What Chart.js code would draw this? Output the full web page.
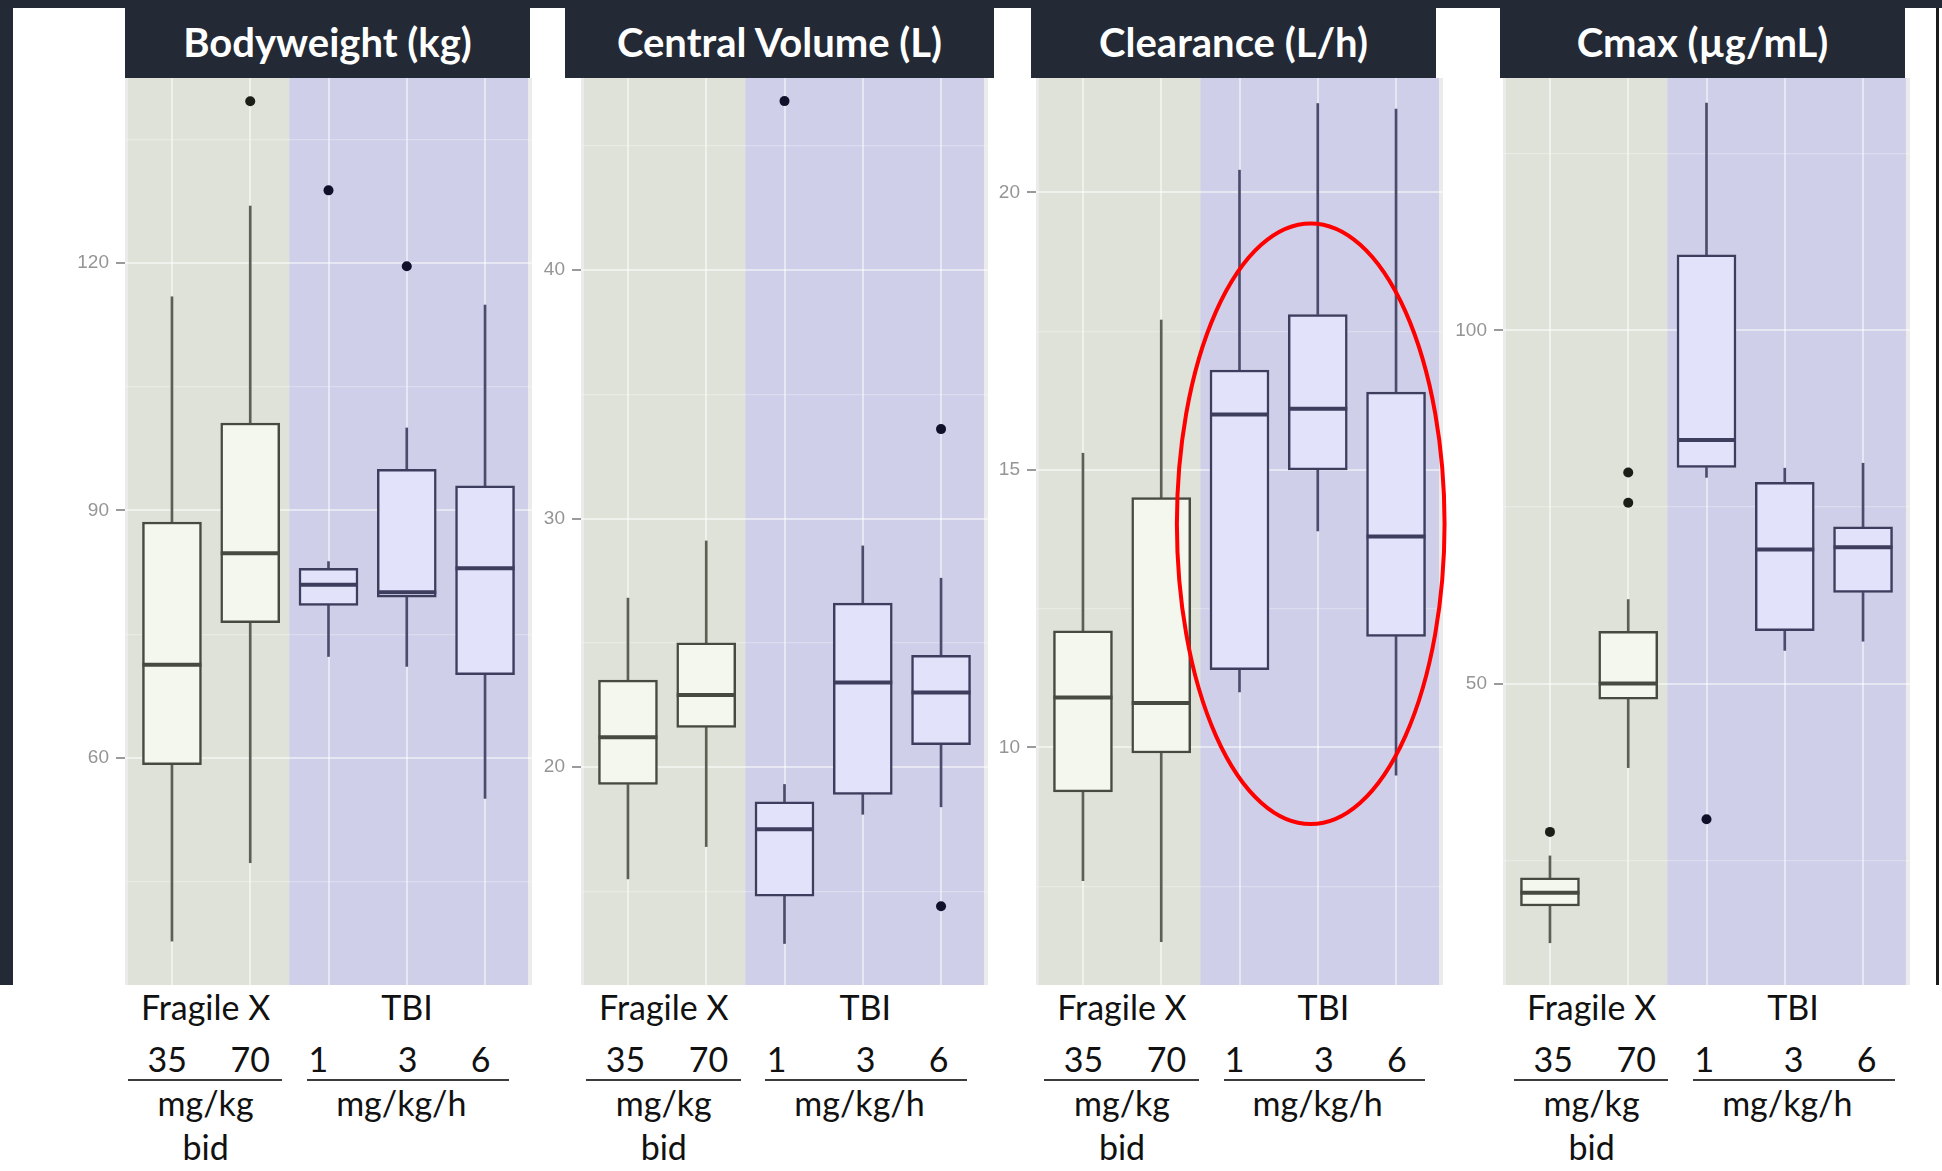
<!DOCTYPE html>
<html>
<head>
<meta charset="utf-8">
<title>PK parameters: Fragile X vs TBI</title>
<script src="https://cdn.jsdelivr.net/npm/chart.js@4.4.1/dist/chart.umd.min.js"></script>
<style>
  html, body { margin: 0; padding: 0; background: #fff; }
  #page { position: relative; width: 1942px; height: 1171px; overflow: hidden; background: #fff; }
  .bar-top { position: absolute; left: 0; top: 0; width: 1942px; height: 8px; background: #232a36; }
  .bar-left { position: absolute; left: 0; top: 0; width: 13px; height: 985px; background: #232a36; }
  .rule-right { position: absolute; left: 1936px; top: 8px; width: 3px; height: 977px; background: #1b1b1b; }
  .head { position: absolute; top: 0; height: 78px; background: #232a36; color: #fff;
          font: bold 40px Lato, sans-serif; text-align: center; line-height: 84px; z-index: 2; overflow: hidden; }
  canvas { position: absolute; top: 78px; }
  .txt { position: absolute; font: 34px Lato, sans-serif; color: #111; white-space: nowrap;
         transform: translate(-50%, -50%); line-height: 1; }
  .line { position: absolute; height: 2px; background: #3c3c3c; }
</style>
</head>
<body>
<div id="page">
  <div class="bar-top"></div>
  <div class="bar-left"></div>
  <div class="rule-right"></div>
</div>
<script>
const titles = ['Bodyweight (kg)', 'Central Volume (L)', 'Clearance (L/h)', 'Cmax (µg/mL)'];
const groups = ['Fragile X', 'TBI'];
const doses = ['35', '70', '1', '3', '6'];
const doseUnits = ['mg/kg', 'mg/kg/h'];
const dosing = 'bid';

// one row per dose: [low whisker, Q1, median, Q3, high whisker]
const bodyweight = [
  [37.8, 59.2, 71.3, 88.6, 115.9],
  [47.3, 76.4, 84.8, 100.6, 126.9],
  [72.3, 78.5, 81.0, 83.0, 83.8],
  [71.1, 79.5, 80.1, 95.0, 100.0],
  [55.1, 70.1, 83.0, 93.0, 114.9]
];
const bodyweightOutliers = [[], [139.6], [128.8], [119.6], []];

const centralVolume = [
  [15.5, 19.3, 21.2, 23.5, 26.8],
  [16.8, 21.6, 22.9, 25.0, 29.1],
  [12.9, 14.8, 17.5, 18.6, 19.3],
  [18.1, 18.9, 23.4, 26.6, 28.9],
  [18.4, 20.9, 23.0, 24.5, 27.6]
];
const centralVolumeOutliers = [[], [], [46.8], [], [33.6, 14.4]];

const clearance = [
  [7.6, 9.2, 10.9, 12.1, 15.3],
  [6.5, 9.9, 10.8, 14.5, 17.7],
  [11.0, 11.4, 16.0, 16.8, 20.4],
  [13.9, 15.0, 16.1, 17.8, 21.6],
  [9.5, 12.0, 13.8, 16.4, 21.5]
];
const clearanceOutliers = [[], [], [], [], []];

const cmax = [
  [13.3, 18.5, 20.4, 22.5, 25.6],
  [38.1, 47.8, 50.0, 57.4, 61.9],
  [79.2, 80.6, 84.5, 110.7, 132.2],
  [54.7, 57.5, 69.0, 78.5, 80.5],
  [56.0, 62.9, 69.3, 72.2, 81.2]
];
const cmaxOutliers = [[29.0], [79.9, 75.6], [30.8], [], []];

// axis limits and labelled tick spacing per panel
const yRanges = [[32.48, 142.42], [11.23, 47.73], [5.72, 22.06], [7.32, 135.75]];
const yMajorStep = [30, 10, 5, 50];

// red ring drawn over the TBI clearance boxes (data units)
const clearanceRing = { x: 3.91, y: 14.03, rx: 1.71, ry: 5.41 };

const panels = [
  { stats: bodyweight, outliers: bodyweightOutliers },
  { stats: centralVolume, outliers: centralVolumeOutliers },
  { stats: clearance, outliers: clearanceOutliers, ring: clearanceRing },
  { stats: cmax, outliers: cmaxOutliers }
];

// page layout
const panelLeft = [125, 581, 1036, 1503];
const plotWidth = 407;
const plotHeight = 907;
const axisWidth = 60;
const padRight = 12;
const headBox = [[125, 530], [565, 994], [1031, 1436], [1500, 1905]];
const labelShift = [0, 458.2, 916.4, 1386];

const fxStyle = { bg: '#dfe2d8', fill: '#f4f7ee', line: '#464a40', whisker: '#5b5f54', dot: '#1b1e17' };
const tbiStyle = { bg: '#cfcfe9', fill: '#e2e2fb', line: '#3d3d5d', whisker: '#4b4b6b', dot: '#10102a' };
const edgeGrey = '#ebebeb';
const styleOf = i => (i < 2 ? fxStyle : tbiStyle);

const page = document.getElementById('page');

titles.forEach((t, p) => {
  const h = document.createElement('div');
  h.className = 'head';
  h.style.left = headBox[p][0] + 'px';
  h.style.width = (headBox[p][1] - headBox[p][0]) + 'px';
  h.textContent = t;
  page.appendChild(h);
});

function addText(str, x, y) {
  const d = document.createElement('div');
  d.className = 'txt';
  d.style.left = x + 'px';
  d.style.top = y + 'px';
  d.textContent = str;
  page.appendChild(d);
}

function addRule(x0, x1, y) {
  const d = document.createElement('div');
  d.className = 'line';
  d.style.left = x0 + 'px';
  d.style.top = y + 'px';
  d.style.width = (x1 - x0) + 'px';
  page.appendChild(d);
}

const dosePos = [167.2, 250.2, 318.3, 407.5, 480.5];
labelShift.forEach(dx => {
  addText(groups[0], dx + 205.6, 1007);
  addText(groups[1], dx + 407, 1007);
  doses.forEach((d, i) => addText(d, dx + dosePos[i], 1059));
  addRule(dx + 127.6, dx + 282.4, 1079);
  addRule(dx + 307.2, dx + 509, 1079);
  addText(doseUnits[0], dx + 205.6, 1103);
  addText(doseUnits[1], dx + 401.3, 1103);
  addText(dosing, dx + 205.6, 1147);
});

// grey panel with two tinted bands: Fragile X doses left, TBI right
const panelBackground = {
  id: 'panelBackground',
  beforeDraw(chart) {
    const { ctx, chartArea: a, scales: { x } } = chart;
    const split = x.getPixelForValue(2.5);
    const h = a.bottom - a.top;
    ctx.save();
    ctx.fillStyle = edgeGrey;
    ctx.fillRect(a.left, a.top, a.right - a.left, h);
    ctx.fillStyle = fxStyle.bg;
    ctx.fillRect(a.left + 3, a.top, split - a.left - 3, h);
    ctx.fillStyle = tbiStyle.bg;
    ctx.fillRect(split, a.top, a.right - 4 - split, h);
    ctx.restore();
  }
};

function medianPlugin(stats, width) {
  return {
    id: 'medianLines',
    afterDatasetsDraw(chart) {
      const { ctx, scales: { x, y } } = chart;
      ctx.save();
      ctx.lineWidth = 4;
      stats.forEach((s, i) => {
        const cx = x.getPixelForValue(i + 1);
        const cy = y.getPixelForValue(s[2]);
        ctx.strokeStyle = styleOf(i).line;
        ctx.beginPath();
        ctx.moveTo(cx - width / 2, cy);
        ctx.lineTo(cx + width / 2, cy);
        ctx.stroke();
      });
      ctx.restore();
    }
  };
}

function ringPlugin(r) {
  return {
    id: 'ring',
    afterDraw(chart) {
      const { ctx, scales: { x, y } } = chart;
      const cx = x.getPixelForValue(r.x);
      const cy = y.getPixelForValue(r.y);
      const rx = x.getPixelForValue(r.x + r.rx) - cx;
      const ry = cy - y.getPixelForValue(r.y + r.ry);
      ctx.save();
      ctx.strokeStyle = '#ff0000';
      ctx.lineWidth = 4;
      ctx.beginPath();
      ctx.ellipse(cx, cy, rx, ry, 0, 0, Math.PI * 2);
      ctx.stroke();
      ctx.restore();
    }
  };
}

function drawPanel(p) {
  const cfg = panels[p];
  const [yMin, yMax] = yRanges[p];
  const step = yMajorStep[p];

  const canvas = document.createElement('canvas');
  canvas.width = axisWidth + plotWidth + padRight;
  canvas.height = plotHeight;
  canvas.style.left = (panelLeft[p] - axisWidth) + 'px';
  page.appendChild(canvas);

  const boxPx = Math.round(plotWidth / 5.2 * 0.75);
  const at = (i, v) => ({ x: i + 1, y: v });
  const colors = key => cfg.stats.map((s, i) => styleOf(i)[key]);

  const tickValues = [];
  for (let v = Math.ceil(yMin / (step / 2)) * (step / 2); v <= yMax; v += step / 2) tickValues.push(v);
  const isMajor = v => Math.abs(v / step - Math.round(v / step)) < 1e-6;

  const outlierPts = [];
  const outlierColors = [];
  cfg.outliers.forEach((list, i) => list.forEach(v => {
    outlierPts.push(at(i, v));
    outlierColors.push(styleOf(i).dot);
  }));

  const plugins = [panelBackground, medianPlugin(cfg.stats, boxPx)];
  if (cfg.ring) plugins.push(ringPlugin(cfg.ring));

  new Chart(canvas, {
    type: 'bar',
    data: {
      datasets: [
        {
          data: cfg.stats.map((s, i) => at(i, [s[0], s[1]])),
          backgroundColor: colors('whisker'),
          barThickness: 2,
          grouped: false,
          order: 3
        },
        {
          data: cfg.stats.map((s, i) => at(i, [s[3], s[4]])),
          backgroundColor: colors('whisker'),
          barThickness: 2,
          grouped: false,
          order: 3
        },
        {
          data: cfg.stats.map((s, i) => at(i, [s[1], s[3]])),
          backgroundColor: colors('fill'),
          borderColor: colors('line'),
          borderWidth: 2.5,
          borderSkipped: false,
          barThickness: boxPx,
          grouped: false,
          order: 2
        },
        {
          type: 'scatter',
          data: outlierPts,
          pointRadius: 5,
          pointBackgroundColor: outlierColors,
          pointBorderWidth: 0,
          order: 1
        }
      ]
    },
    options: {
      responsive: false,
      animation: false,
      events: [],
      layout: { autoPadding: false, padding: { left: 0, top: 0, right: padRight, bottom: 0 } },
      plugins: { legend: { display: false }, tooltip: { enabled: false } },
      scales: {
        x: {
          type: 'linear',
          min: 0.4,
          max: 5.6,
          offset: false,
          afterBuildTicks: s => { s.ticks = [1, 2, 3, 4, 5].map(v => ({ value: v })); },
          afterFit: s => { s.height = 0; s.paddingLeft = 0; s.paddingRight = 0; },
          border: { display: false },
          ticks: { display: false },
          grid: { offset: false, color: 'rgba(255,255,255,0.5)', lineWidth: 2, drawTicks: false }
        },
        y: {
          type: 'linear',
          min: yMin,
          max: yMax,
          afterBuildTicks: s => { s.ticks = tickValues.map(v => ({ value: v })); },
          afterFit: s => { s.width = axisWidth; s.paddingTop = 0; s.paddingBottom = 0; },
          border: { display: false },
          grid: {
            color: c => (isMajor(c.tick.value) ? 'rgba(255,255,255,0.5)' : 'rgba(255,255,255,0.28)'),
            lineWidth: c => (isMajor(c.tick.value) ? 2 : 1.2),
            tickColor: c => (isMajor(c.tick.value) ? '#9a9a9a' : 'rgba(0,0,0,0)'),
            tickLength: 9,
            tickWidth: 2
          },
          ticks: {
            callback: v => (isMajor(v) ? String(v) : ''),
            color: '#959595',
            font: { family: 'Liberation Sans', size: 19 },
            padding: 7
          }
        }
      }
    },
    plugins
  });
}

panels.forEach((_, p) => drawPanel(p));
</script>
</body>
</html>
